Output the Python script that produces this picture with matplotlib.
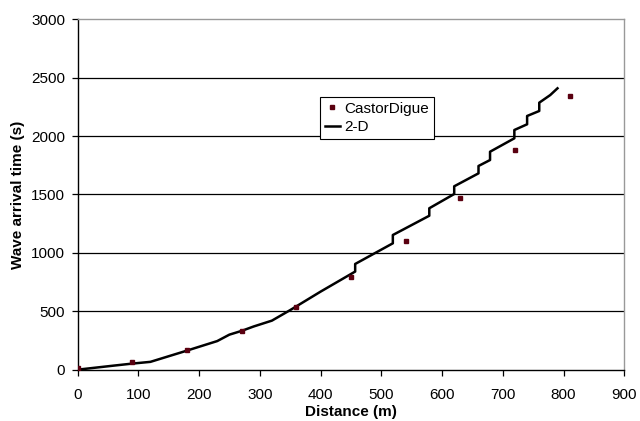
import matplotlib
matplotlib.use("Agg")
import matplotlib.pyplot as plt

plt.rcParams['font.family'] = ['Liberation Sans', 'DejaVu Sans']

# CastorDigue measurements
castor_x = [0, 90, 180, 270, 360, 450, 540, 630, 720, 810]
castor_y = [18, 62, 169, 331, 537, 797, 1105, 1467, 1881, 2341]

# 2-D model
model_x = [0, 60, 90, 120, 175, 230, 250, 270, 290, 320, 350, 400, 457, 457,
           519, 519, 579, 579, 620, 620, 660, 660, 679, 679, 719, 719,
           740, 740, 760, 760, 778, 790]
model_y = [0, 35, 52, 67, 155, 245, 300, 332, 370, 420, 510, 668, 840, 905,
           1082, 1153, 1318, 1382, 1504, 1570, 1681, 1744, 1795, 1866, 1981, 2052,
           2101, 2172, 2215, 2286, 2351, 2409]

x_ticks = [0, 100, 200, 300, 400, 500, 600, 700, 800, 900]
y_ticks = [0, 500, 1000, 1500, 2000, 2500, 3000]

FS = 11

fig = plt.figure(figsize=(6.4, 4.21), dpi=100)
ax = fig.add_axes([0.1211, 0.1219, 0.9755 - 0.1211, 0.9542 - 0.1219])

for yt in y_ticks[1:-1]:
    ax.axhline(yt, color='black', lw=0.9, zorder=1)

ax.plot(castor_x, castor_y, linestyle='none', marker='s', markersize=2.6,
        color='#5a0010', label='CastorDigue', zorder=3)
ax.plot(model_x, model_y, color='black', lw=1.8, label='2-D', zorder=2)

ax.set_xlim(0, 900)
ax.set_ylim(0, 3000)
ax.set_xticks(x_ticks)
ax.set_yticks(y_ticks)
ax.tick_params(direction='out', length=4, width=0.9, labelsize=FS, color='black')
ax.tick_params(axis='x', pad=9)
ax.tick_params(axis='y', pad=5)

for side in ['left', 'bottom']:
    ax.spines[side].set_color('black')
    ax.spines[side].set_linewidth(1.0)
for side in ['top', 'right']:
    ax.spines[side].set_color('#999999')
    ax.spines[side].set_linewidth(1.0)

ax.set_xlabel('Distance (m)', fontsize=FS, fontweight='bold', labelpad=2)
ax.set_ylabel('Wave arrival time (s)', fontsize=FS, fontweight='bold', labelpad=4)

leg = ax.legend(loc='upper left', bbox_to_anchor=(0.4435, 0.778), fontsize=FS,
                frameon=True, fancybox=False, edgecolor='black', framealpha=1,
                borderpad=0.3, handlelength=1.0, handletextpad=0.3, labelspacing=0.3,
                borderaxespad=0)
leg.get_frame().set_linewidth(0.8)

fig.savefig('out.png', dpi=100)
